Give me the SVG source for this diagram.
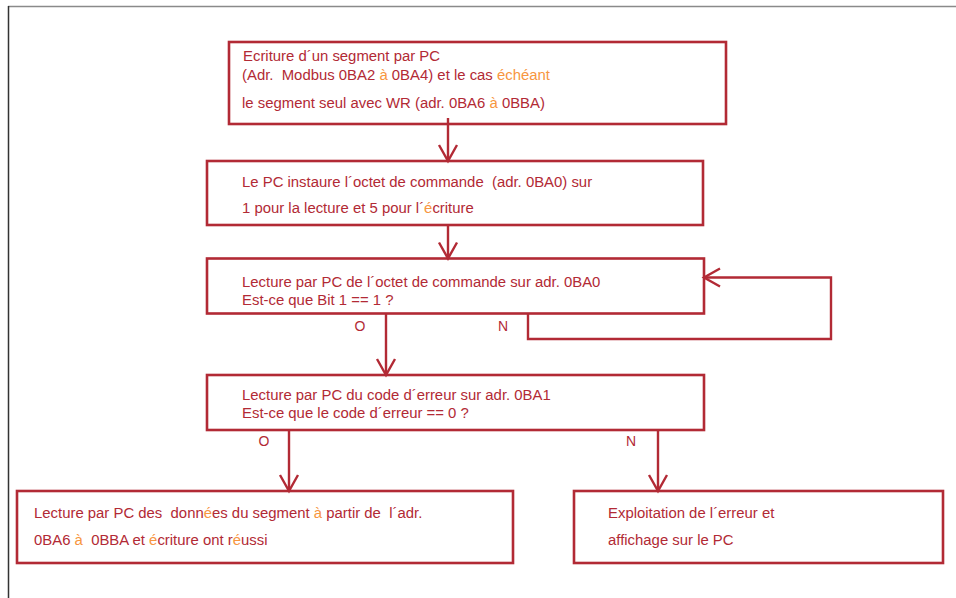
<svg xmlns="http://www.w3.org/2000/svg" width="956" height="598" viewBox="0 0 956 598" xml:space="preserve">
<defs>
<style>
.box{fill:#fff;stroke:#b22a35;stroke-width:2.6}
.t{font-family:"Liberation Sans",Arial,sans-serif;font-size:14.9px;fill:#b22a35;white-space:pre}
.o{fill:#f7963f}
.c{fill:none;stroke:#b22a35;stroke-width:2.4}
.lbl{font-family:"Liberation Sans",Arial,sans-serif;font-size:14px;fill:#b22a35;text-anchor:middle}
</style>
<marker id="ah" markerUnits="userSpaceOnUse" markerWidth="40" markerHeight="40" refX="0" refY="0" viewBox="-20 -20 40 40" orient="auto" overflow="visible">
<path d="M-16,-9 L0,0 L-16,9" fill="none" stroke="#b22a35" stroke-width="2.4"/>
</marker>
</defs>
<rect width="956" height="598" fill="#fff"/>
<line x1="8" y1="6.5" x2="956" y2="6.5" stroke="#8a8a8a" stroke-width="1.5"/>
<line x1="8.5" y1="6" x2="8.5" y2="598" stroke="#333" stroke-width="1.5"/>

<g id="n1">
<rect class="box" x="229" y="42" width="497" height="82"/>
<text class="t" x="243" y="61">Ecriture d´un segment par PC</text>
<text class="t" x="242" y="80">(Adr.  Modbus 0BA2 <tspan class="o">à</tspan> 0BA4) et le cas <tspan class="o">échéant</tspan></text>
<text class="t" x="242" y="108">le segment seul avec WR (adr. 0BA6 <tspan class="o">à</tspan> 0BBA)</text>
</g>
<g id="n2">
<rect class="box" x="207" y="161" width="496" height="64"/>
<text class="t" x="242" y="187">Le PC instaure l´octet de commande  (adr. 0BA0) sur</text>
<text class="t" x="242" y="213">1 pour la lecture et 5 pour l´<tspan class="o">é</tspan>criture</text>
</g>
<g id="n3">
<rect class="box" x="207" y="258.5" width="497" height="55"/>
<text class="t" x="242" y="287">Lecture par PC de l´octet de commande sur adr. 0BA0</text>
<text class="t" x="242" y="305">Est-ce que Bit 1 == 1 ?</text>
</g>
<g id="n4">
<rect class="box" x="207" y="375" width="497" height="55"/>
<text class="t" x="242" y="400">Lecture par PC du code d´erreur sur adr. 0BA1</text>
<text class="t" x="242" y="418">Est-ce que le code d´erreur == 0 ?</text>
</g>
<g id="n5">
<rect class="box" x="17" y="491" width="496" height="72"/>
<text class="t" x="34" y="518">Lecture par PC des  donn<tspan class="o">é</tspan>es du segment <tspan class="o">à</tspan> partir de  l´adr.</text>
<text class="t" x="34" y="545">0BA6 <tspan class="o">à</tspan>  0BBA et <tspan class="o">é</tspan>criture ont r<tspan class="o">é</tspan>ussi</text>
</g>
<g id="n6">
<rect class="box" x="574" y="491" width="369" height="72"/>
<text class="t" x="608" y="518">Exploitation de l´erreur et</text>
<text class="t" x="608" y="545">affichage sur le PC</text>
</g>

<g id="connectors">
<line class="c" x1="448" y1="118" x2="448" y2="161" marker-end="url(#ah)"/>
<line class="c" x1="448" y1="225" x2="448" y2="258.5" marker-end="url(#ah)"/>
<line class="c" x1="386" y1="313.5" x2="386" y2="375" marker-end="url(#ah)"/>
<polyline class="c" points="528,313.5 528,339 831,339 831,277.5 704,277.5" marker-end="url(#ah)"/>
<line class="c" x1="289" y1="430" x2="289" y2="491" marker-end="url(#ah)"/>
<line class="c" x1="658" y1="430" x2="658" y2="491" marker-end="url(#ah)"/>
<text class="lbl" x="360" y="331">O</text>
<text class="lbl" x="503" y="331">N</text>
<text class="lbl" x="264" y="446">O</text>
<text class="lbl" x="631" y="446">N</text>
</g>
</svg>
